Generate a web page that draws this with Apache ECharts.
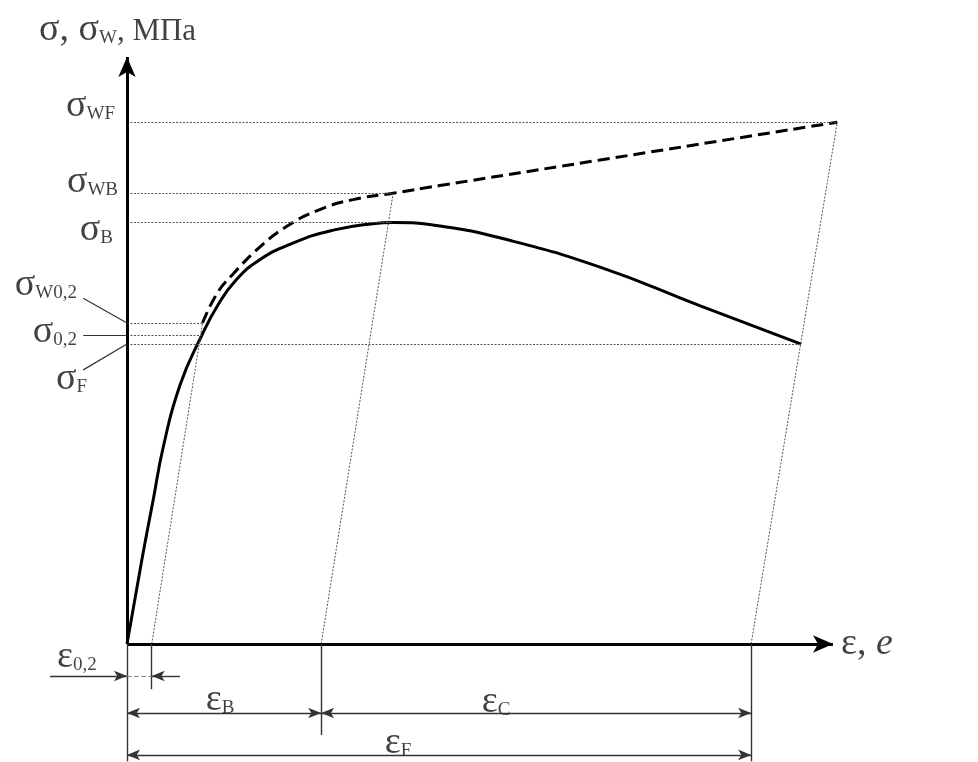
<!DOCTYPE html>
<html><head><meta charset="utf-8">
<script src="https://cdn.jsdelivr.net/npm/echarts@6/dist/echarts.min.js"></script>
<style>html,body{margin:0;padding:0;background:#fff}#c{width:978px;height:762px}</style>
</head><body><div id="c"></div>
<script>
// ---------------- data (schematic units) ----------------
// stress reference levels (σ axis, 0..100 = axis length)
const stressNames  = ['WF', 'WB', 'B', 'W0,2', '0,2', 'F'];
const stressValues = [88.9, 76.8, 71.8, 54.7, 52.6, 51.1];
// strain at which each horizontal reference line ends
const stressLineEnds = [100.6, 37.7, 37.7, 10.7, 10.6, 95.5];
// strains on the ε axis: ε0,2, εB, εF
const strainNames  = ['0,2', 'B', 'F'];
const strainValues = [3.5, 27.5, 88.4];
const axisMaxX = 100, axisMaxY = 100;
// engineering curve σ(ε) – solid
const engX = [0, 2.1, 3.7, 5.2, 7.5, 10.6, 12.9, 15.3, 18.6, 23.5, 29.2, 34.8, 37.7, 44.3, 52.8, 67.0, 81.2, 95.5];
const engY = [0, 14.3, 24.5, 33.9, 44.1, 52.6, 57.8, 61.8, 65.3, 68.3, 70.5, 71.6, 71.8, 71.2, 69.2, 64.2, 57.6, 51.1];
// true stress curve σW(e) – dashed
const trueX = [10.7, 12.8, 15.0, 18.8, 22.7, 27.3, 32.0, 37.7, 44.3, 67.0, 100.6];
const trueY = [54.7, 59.8, 63.0, 67.6, 71.2, 74.0, 75.7, 76.8, 78.1, 82.45, 88.9];

// ---------------- layout helpers ----------------
const X0 = 127, Y0 = 644, PX = 7.06, PY = 5.87;
const xMin = -17, xMax = 120, yMin = -20, yMax = 105;
const gridLeft = X0 + xMin * PX, gridTop = Y0 - yMax * PY;
const gridW = (xMax - xMin) * PX, gridH = (yMax - yMin) * PY;

const FONT = "'Liberation Serif','Times New Roman',serif";
const rich = {
  g: {fontFamily: FONT, fontSize: 38, color: '#111'},
  s: {fontFamily: FONT, fontSize: 19, color: '#111', padding: [16, 0, 0, 0]},
  t: {fontFamily: FONT, fontSize: 31, color: '#111', padding: [4, 0, 0, 0]},
  i: {fontFamily: FONT, fontSize: 38, fontStyle: 'italic', color: '#111'}
};

function seg(a, b, s1, s2, size, style) {
  return [
    {coord: a, symbol: s1 || 'none', symbolSize: size || 10, lineStyle: style},
    {coord: b, symbol: s2 || 'none', symbolSize: size || 10}
  ];
}
const dotted = {color: '#555', width: 1, type: [2, 1.5]};
const dim = {color: '#333', width: 1.4, type: 'solid'};
const axisStyle = {color: '#000', width: 3, type: 'solid'};

// horizontal reference lines and unloading lines
const refLines = stressValues.map((v, i) => seg([0, v], [stressLineEnds[i], v], 'none', 'none', 1, dotted));
refLines.push(seg([strainValues[0], 0], [stressLineEnds[3], stressValues[3]], 'none', 'none', 1, dotted));
refLines.push(seg([strainValues[1], 0], [stressLineEnds[1], stressValues[1]], 'none', 'none', 1, dotted));
refLines.push(seg([strainValues[2], 0], [stressLineEnds[0], stressValues[0]], 'none', 'none', 1, dotted));

// axes
const axesLines = [
  seg([0, 0], [0, axisMaxY], 'none', 'arrow', [13, 20], axisStyle),
  seg([0, 0], [axisMaxX, 0], 'none', 'arrow', [13, 20], axisStyle)
];

// dimension lines under the axis
const yE02 = -5.45, yEB = -11.75, yEF = -18.9;
const AR = [8, 13];
const dimLines = [
  seg([0, 0], [0, yMin], 'none', 'none', 1, dim),
  seg([strainValues[0], 0], [strainValues[0], -7.7], 'none', 'none', 1, dim),
  seg([strainValues[1], 0], [strainValues[1], -15.5], 'none', 'none', 1, dim),
  seg([strainValues[2], 0], [strainValues[2], yMin], 'none', 'none', 1, dim),
  seg([-10.9, yE02], [0, yE02], 'none', 'arrow', AR, dim),
  seg([0, yE02], [strainValues[0], yE02], 'none', 'none', 1, {color: '#888', width: 1.2}),
  seg([7.5, yE02], [strainValues[0], yE02], 'none', 'arrow', AR, dim),
  seg([0, yEB], [strainValues[1], yEB], 'arrow', 'arrow', AR, dim),
  seg([strainValues[1], yEB], [strainValues[2], yEB], 'arrow', 'arrow', AR, dim),
  seg([0, yEF], [strainValues[2], yEF], 'arrow', 'arrow', AR, dim)
];

// leader lines for the small labels
const lead = {color: '#333', width: 1.2, type: 'solid'};
const leaders = [
  seg([-6.2, 58.9], [0, stressValues[3]], 'none', 'none', 1, lead),
  seg([-6.2, stressValues[4]], [0, stressValues[4]], 'none', 'none', 1, lead),
  seg([-6.2, 46.7], [0, stressValues[5]], 'none', 'none', 1, lead)
];

// text labels
const labelOffsets = [[-12, -16], [-9, -11], [-14, 7], [-50, -38], [-50, -3], [-40, 35]];
const texts = stressNames.map((n, i) => ({
  value: [0, stressValues[i]],
  label: {formatter: '{g|σ}{s|' + n + '}', offset: labelOffsets[i], align: 'right'}
}));
texts.push({value: [0, axisMaxY], label: {formatter: '{g|σ, }{g|σ}{s|W}{t|, МПа}', offset: [-88, -27], align: 'left'}});
texts.push({value: [axisMaxX, 0], label: {formatter: '{g|ε}{g|, }{i|e}', offset: [8, 0], align: 'left'}});
texts.push({value: [0, 0], label: {formatter: '{g|ε}{s|' + strainNames[0] + '}', offset: [-70, 13], align: 'left'}});
texts.push({value: [strainValues[1] / 2, yEB], label: {formatter: '{g|ε}{s|' + strainNames[1] + '}', offset: [-4, -13], align: 'center'}});
texts.push({value: [(strainValues[1] + strainValues[2]) / 2, yEB], label: {formatter: '{g|ε}{s|C}', offset: [-40, -11], align: 'center'}});
texts.push({value: [strainValues[2] / 2, yEF], label: {formatter: '{g|ε}{s|' + strainNames[2] + '}', offset: [-41, -12], align: 'center'}});

function mlSeries(data) {
  return {type: 'line', data: [], silent: true, markLine: {silent: true, animation: false, label: {show: false}, emphasis: {disabled: true}, data: data}};
}

const chart = echarts.init(document.getElementById('c'), null, {renderer: 'canvas'});
chart.setOption({
  animation: false,
  backgroundColor: '#fff',
  grid: {left: gridLeft, top: gridTop, width: gridW, height: gridH},
  xAxis: {type: 'value', min: xMin, max: xMax, show: false},
  yAxis: {type: 'value', min: yMin, max: yMax, show: false},
  series: [
    mlSeries(refLines),
    {type: 'line', data: engX.map((x, i) => [x, engY[i]]), smooth: 0.5, showSymbol: false, silent: true,
     lineStyle: {color: '#000', width: 3}},
    {type: 'line', data: trueX.map((x, i) => [x, trueY[i]]), smooth: 0.5, showSymbol: false, silent: true,
     lineStyle: {color: '#000', width: 3, type: [12, 6]}},
    mlSeries(axesLines),
    mlSeries(dimLines),
    mlSeries(leaders),
    {type: 'scatter', data: texts, symbolSize: 0, silent: true,
     label: {show: true, position: [0, 0], verticalAlign: 'middle', rich: rich}}
  ]
});
</script></body></html>
